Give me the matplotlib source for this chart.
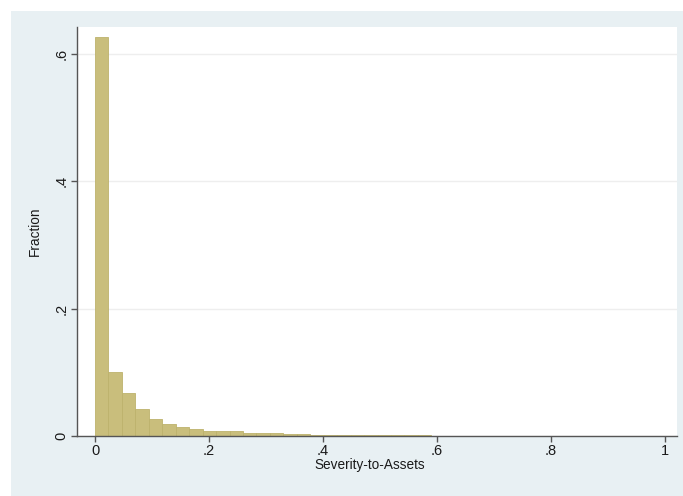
import matplotlib
matplotlib.use("Agg")
import matplotlib.pyplot as plt
from matplotlib.patches import Rectangle
import numpy as np

# Data: histogram of Severity-to-Assets (fraction per bin)
bin_start = 0.0
bin_width = 0.0236
fractions = [0.626, 0.100, 0.067, 0.042, 0.027, 0.019, 0.014, 0.011, 0.008, 0.008,
             0.0075, 0.005, 0.005, 0.0045, 0.003, 0.0025, 0.002, 0.002, 0.0015, 0.0015,
             0.0012, 0.001, 0.001, 0.0008, 0.0008, 0.0006, 0.0005, 0.0005, 0.0004, 0.0004,
             0.0003, 0.0003, 0.0003, 0.0002, 0.0002, 0.0002, 0.0002, 0.0001, 0.0001, 0.0001,
             0.0001, 0.0001]
x_ticks = [0, 0.2, 0.4, 0.6, 0.8, 1.0]
x_ticklabels = ["0", ".2", ".4", ".6", ".8", "1"]
y_ticks = [0, 0.2, 0.4, 0.6]
y_ticklabels = ["0", ".2", ".4", ".6"]
x_label = "Severity-to-Assets"
y_label = "Fraction"

plt.rcParams['font.family'] = ['Liberation Sans', 'DejaVu Sans']

W, H = 683, 496
fig = plt.figure(figsize=(W / 100, H / 100), dpi=100)
fig.patch.set_facecolor("white")
# Stata-like graph region background
bg = Rectangle((11 / W, 0), 1 - 11 / W, 1 - 11 / H, transform=fig.transFigure,
               facecolor="#E8F0F3", edgecolor="none", zorder=-10)
fig.add_artist(bg)

left, right, top, bottom = 77, 677, 27, 436
ax = fig.add_axes([left / W, 1 - bottom / H, (right - left) / W, (bottom - top) / H])
ax.set_zorder(1)
ax.set_facecolor("white")

edges = bin_start + bin_width * np.arange(len(fractions))
ax.bar(edges, fractions, width=bin_width, align="edge", color="#C9BE7C",
       edgecolor="#BDB26C", linewidth=0.6, zorder=2)

ax.set_xlim(-0.0316, 1.021)
ax.set_ylim(0, 0.6416)

fs = 10.5
ax.set_xticks(x_ticks)
ax.set_xticklabels(x_ticklabels, fontsize=fs, color="#1a1a1a")
ax.set_yticks(y_ticks)
ax.set_yticklabels(y_ticklabels, fontsize=fs, color="#1a1a1a", rotation=90, va="center")

for s in ["top", "right"]:
    ax.spines[s].set_visible(False)
for s in ["left", "bottom"]:
    ax.spines[s].set_color("#555555")
    ax.spines[s].set_linewidth(1.0)
ax.tick_params(axis="both", direction="out", length=4, width=1.0, color="#555555", pad=2)

ax.yaxis.grid(True, color="#EEEEEE", linewidth=1.0, zorder=0)
ax.set_axisbelow(True)

ax.set_xlabel(x_label, fontsize=9.8, color="#1a1a1a", labelpad=-1)
ax.xaxis.set_label_coords(0.488, -0.055)
ax.set_ylabel(y_label, fontsize=9.8, color="#1a1a1a", labelpad=9)

fig.savefig("out.png", dpi=100, facecolor=fig.get_facecolor())
